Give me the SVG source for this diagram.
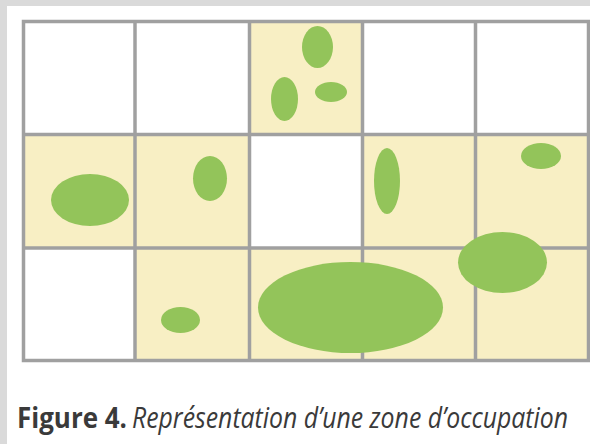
<svg xmlns="http://www.w3.org/2000/svg" width="590" height="444" viewBox="0 0 590 444">
  <style>
    .empty { fill: #ffffff; }
    .occupied { fill: #f8efc4; }
    .grid { stroke: #a0a0a0; stroke-width: 3.5; fill: none; }
    .patch { fill: #93c45a; }
    .caption { font-family: "Open Sans", "Liberation Sans", sans-serif; font-size: 28.5px; fill: #3a3a3a; }
  </style>

  <!-- page background and white panel -->
  <rect x="0" y="0" width="590" height="444" fill="#dadada"/>
  <rect x="7" y="6" width="583" height="438" fill="#ffffff"/>

  <!-- cells: 5 columns x 3 rows -->
  <g id="cells">
    <rect class="empty" x="23.5" y="21.5" width="111.5" height="113"/>
    <rect class="empty" x="135" y="21.5" width="114.5" height="113"/>
    <rect class="occupied" x="249.5" y="21.5" width="113" height="113"/>
    <rect class="empty" x="362.5" y="21.5" width="113" height="113"/>
    <rect class="empty" x="475.5" y="21.5" width="113" height="113"/>

    <rect class="occupied" x="23.5" y="134.5" width="111.5" height="113.5"/>
    <rect class="occupied" x="135" y="134.5" width="114.5" height="113.5"/>
    <rect class="empty" x="249.5" y="134.5" width="113" height="113.5"/>
    <rect class="occupied" x="362.5" y="134.5" width="113" height="113.5"/>
    <rect class="occupied" x="475.5" y="134.5" width="113" height="113.5"/>

    <rect class="empty" x="23.5" y="248" width="111.5" height="112.5"/>
    <rect class="occupied" x="135" y="248" width="114.5" height="112.5"/>
    <rect class="occupied" x="249.5" y="248" width="113" height="112.5"/>
    <rect class="occupied" x="362.5" y="248" width="113" height="112.5"/>
    <rect class="occupied" x="475.5" y="248" width="113" height="112.5"/>
  </g>

  <!-- grid lines -->
  <g id="grid" class="grid">
    <rect x="23.5" y="21.5" width="565" height="339"/>
    <line x1="135" y1="21.5" x2="135" y2="360.5"/>
    <line x1="249.5" y1="21.5" x2="249.5" y2="360.5"/>
    <line x1="362.5" y1="21.5" x2="362.5" y2="360.5"/>
    <line x1="475.5" y1="21.5" x2="475.5" y2="360.5"/>
    <line x1="23.5" y1="134.5" x2="588.5" y2="134.5"/>
    <line x1="23.5" y1="248" x2="588.5" y2="248"/>
  </g>

  <!-- vegetation patches -->
  <g id="patches">
    <ellipse class="patch" cx="317.5" cy="47" rx="15.5" ry="21"/>
    <ellipse class="patch" cx="284.5" cy="99" rx="13.5" ry="22"/>
    <ellipse class="patch" cx="331" cy="92" rx="16" ry="10"/>
    <ellipse class="patch" cx="90" cy="200" rx="39" ry="26"/>
    <ellipse class="patch" cx="210" cy="178.5" rx="17" ry="22.5"/>
    <ellipse class="patch" cx="387" cy="181" rx="13" ry="33"/>
    <ellipse class="patch" cx="541" cy="156" rx="20" ry="13"/>
    <ellipse class="patch" cx="180.5" cy="320" rx="19.5" ry="13"/>
    <ellipse class="patch" cx="350.5" cy="307.5" rx="92.5" ry="45.5"/>
    <ellipse class="patch" cx="502.5" cy="262.5" rx="44.5" ry="30.5"/>
  </g>

  <!-- caption, condensed horizontally -->
  <g id="caption" class="caption">
    <text transform="translate(17,428) scale(0.85,1)" font-weight="bold" textLength="129.4" lengthAdjust="spacingAndGlyphs">Figure 4.</text>
    <text transform="translate(132,428) scale(0.8,1)" font-style="italic" textLength="545" lengthAdjust="spacingAndGlyphs">Représentation d’une zone d’occupation</text>
  </g>
</svg>
